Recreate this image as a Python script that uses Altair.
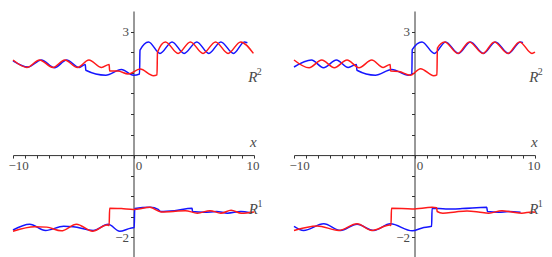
import altair as alt
import pandas as pd

# ---------------- data ----------------
# Left panel (A)
A_UP_RED_X = [-10.0, -8.85, -7.8, -6.7, -5.7, -4.65, -3.7, -2.65, -2.02, -1.98, -1.3, -0.45, 0.55, 1.65, 1.95, 1.99, 2.65, 3.7, 4.72, 5.77, 6.81, 7.85, 8.89, 9.95]
A_UP_RED_Y = [2.31, 2.13, 2.31, 2.13, 2.31, 2.13, 2.31, 2.13, 2.2, 2.04, 2.04, 1.97, 2.09, 1.93, 1.95, 2.5, 2.75, 2.47, 2.75, 2.47, 2.75, 2.47, 2.75, 2.47]
A_UP_BLUE_X = [-10.0, -8.75, -7.65, -6.55, -5.55, -4.5, -4.0, -3.96, -2.3, -1.0, 0.0, 0.5, 0.54, 1.25, 2.2, 3.2, 4.2, 5.25, 6.25, 7.25, 8.3, 9.2, 9.45]
A_UP_BLUE_Y = [2.29, 2.14, 2.31, 2.12, 2.31, 2.13, 2.2, 2.06, 1.94, 2.08, 1.94, 1.97, 2.55, 2.75, 2.47, 2.75, 2.47, 2.75, 2.47, 2.75, 2.47, 2.75, 2.73]
A_LO_RED_X = [-10.0, -8.2, -7.2, -6.0, -4.73, -3.4, -2.2, -2.02, -1.98, -1.0, 0.0, 1.35, 2.3, 3.3, 4.3, 5.3, 6.35, 7.25, 8.1, 8.95, 10.0]
A_LO_RED_Y = [-1.85, -1.74, -1.75, -1.84, -1.68, -1.85, -1.70, -1.71, -1.29, -1.30, -1.32, -1.27, -1.38, -1.37, -1.35, -1.41, -1.35, -1.41, -1.34, -1.41, -1.38]
A_LO_BLUE_X = [-10.0, -8.62, -7.3, -5.8, -5.0, -3.35, -2.1, -1.15, -0.3, 0.06, 0.1, 1.4, 2.05, 2.25, 3.4, 4.86, 4.9, 5.85, 6.9, 7.8, 8.9, 9.7]
A_LO_BLUE_Y = [-1.82, -1.68, -1.83, -1.73, -1.74, -1.83, -1.68, -1.85, -1.78, -1.76, -1.30, -1.27, -1.32, -1.37, -1.35, -1.29, -1.37, -1.39, -1.37, -1.41, -1.37, -1.40]

# Right panel (B)
B_UP_RED_X = [-10.0, -8.75, -7.7, -6.65, -5.6, -4.6, -3.55, -2.6, -2.02, -1.98, -1.3, -0.35, 0.5, 1.6, 1.86, 1.9, 2.5, 3.6, 4.55, 5.68, 6.62, 7.75, 8.72, 9.75, 10.0]
B_UP_RED_Y = [2.31, 2.12, 2.31, 2.12, 2.31, 2.12, 2.31, 2.13, 2.2, 2.04, 2.03, 1.94, 2.1, 1.93, 1.95, 2.6, 2.75, 2.47, 2.75, 2.47, 2.75, 2.47, 2.75, 2.47, 2.5]
B_UP_BLUE_X = [-10.0, -8.55, -7.55, -6.48, -5.5, -4.82, -4.78, -3.25, -1.88, -0.5, -0.22, -0.19, 0.62, 1.65, 2.58, 3.65, 4.65, 5.72, 6.72, 7.8, 8.8, 9.0]
B_UP_BLUE_Y = [2.14, 2.31, 2.12, 2.31, 2.13, 2.2, 2.06, 1.94, 2.08, 1.94, 1.97, 2.56, 2.75, 2.47, 2.75, 2.47, 2.75, 2.47, 2.75, 2.47, 2.75, 2.73]
B_LO_RED_X = [-10.0, -8.08, -6.29, -4.77, -3.53, -2.05, -1.95, -1.91, -0.2, 1.46, 1.84, 1.88, 2.35, 3.4, 4.36, 5.3, 6.16, 7.26, 8.08, 8.91, 9.74, 10.0]
B_LO_RED_Y = [-1.83, -1.72, -1.83, -1.67, -1.83, -1.70, -1.71, -1.29, -1.31, -1.27, -1.28, -1.37, -1.41, -1.38, -1.36, -1.38, -1.41, -1.35, -1.38, -1.41, -1.38, -1.39]
B_LO_BLUE_X = [-10.0, -9.2, -7.53, -6.15, -4.77, -3.39, -2.0, -0.19, 0.64, 1.42, 1.46, 2.6, 3.95, 6.0, 6.05, 6.98, 7.81, 8.8]
B_LO_BLUE_Y = [-1.73, -1.83, -1.67, -1.83, -1.68, -1.83, -1.67, -1.84, -1.77, -1.73, -1.29, -1.31, -1.30, -1.27, -1.37, -1.39, -1.37, -1.39]

# annotation labels: (panel, text, x, y)
ANN_PANEL = ["A", "A", "A", "B", "B", "B"]
ANN_MAIN = ["x", "R", "R", "x", "R", "R"]
ANN_SUP = ["", "2", "1", "", "2", "1"]
ANN_X = [9.95, 9.9, 9.95, 9.95, 9.9, 9.9]
ANN_Y = [0.32, 1.89, -1.31, 0.32, 1.89, -1.31]

X_TICKS = list(range(-10, 11))
Y_TICKS = [-2.0, -1.5, -1.0, -0.5, 0.0, 0.5, 1.0, 1.5, 2.0, 2.5, 3.0]

# ---------------- build tables ----------------
rows = []
def add(panel, band, color, xs, ys):
    for x, y in zip(xs, ys):
        rows.append({"panel": panel, "band": band, "color": color, "x": x, "y": y})

add("A", "up", "red", A_UP_RED_X, A_UP_RED_Y)
add("A", "up", "blue", A_UP_BLUE_X, A_UP_BLUE_Y)
add("A", "lo", "red", A_LO_RED_X, A_LO_RED_Y)
add("A", "lo", "blue", A_LO_BLUE_X, A_LO_BLUE_Y)
add("B", "up", "red", B_UP_RED_X, B_UP_RED_Y)
add("B", "up", "blue", B_UP_BLUE_X, B_UP_BLUE_Y)
add("B", "lo", "red", B_LO_RED_X, B_LO_RED_Y)
add("B", "lo", "blue", B_LO_BLUE_X, B_LO_BLUE_Y)
curves = pd.DataFrame(rows)

ann = pd.DataFrame({"panel": ANN_PANEL, "main": ANN_MAIN, "sup": ANN_SUP, "x": ANN_X, "y": ANN_Y})

W, H = 241, 247
XD = [-10, 10]
YD = [-2.5, 3.5]
AXIS_COLOR = "#333333"
TEXT_COLOR = "#4a4a4a"
SERIF = "Liberation Serif"

def panel(p):
    xscale = alt.Scale(domain=XD, nice=False, zero=False)
    yscale = alt.Scale(domain=YD, nice=False, zero=False)
    x_axis = alt.Axis(
        values=X_TICKS, format="d", labelExpr="datum.value % 10 === 0 ? datum.label : ''",
        offset=-H * (0 - YD[0]) / (YD[1] - YD[0]), tickSize=3, grid=False, title=None,
        domainColor=AXIS_COLOR, tickColor=AXIS_COLOR, labelColor=TEXT_COLOR,
        labelFont=SERIF, labelFontSize=13, labelPadding=1, labelOverlap=False,
        labelFlush=True, labelFlushOffset=5,
        labelOffset={"condition": {"test": "datum.value === 0", "value": 5}, "value": 0},
    )
    y_axis = alt.Axis(
        values=Y_TICKS, format="~g",
        labelExpr="datum.value === 3 || datum.value === -2 ? datum.label : ''",
        offset=-W * (0 - XD[0]) / (XD[1] - XD[0]), tickSize=3, grid=False, title=None,
        domainColor=AXIS_COLOR, tickColor=AXIS_COLOR, labelColor=TEXT_COLOR,
        labelFont=SERIF, labelFontSize=13, labelPadding=2, labelOverlap=False,
    )
    X = alt.X("x:Q", scale=xscale, axis=x_axis)
    Y = alt.Y("y:Q", scale=yscale, axis=y_axis)

    d = curves[curves.panel == p]
    blue = alt.Chart(d[d.color == "blue"]).mark_line(
        interpolate="monotone", color="#1515ff", strokeWidth=1.5
    ).encode(x=X, y=Y, detail="band:N")
    red = alt.Chart(d[d.color == "red"]).mark_line(
        interpolate="monotone", color="#ff1a1a", strokeWidth=1.5
    ).encode(x=X, y=Y, detail="band:N")

    a = ann[ann.panel == p]
    main = alt.Chart(a).mark_text(
        font=SERIF, fontSize=15, fontStyle="italic", color=TEXT_COLOR, align="center", baseline="middle"
    ).encode(x=X, y=Y, text="main:N")
    sup = alt.Chart(a).mark_text(
        font=SERIF, fontSize=10, color=TEXT_COLOR, align="left", baseline="middle", dx=4, dy=-5
    ).encode(x=X, y=Y, text="sup:N")

    return alt.layer(blue, red, main, sup).properties(width=W, height=H)

chart = alt.hconcat(panel("A"), panel("B"), spacing=40, bounds="flush").properties(
    padding={"left": 0, "top": 3, "right": 0, "bottom": 0}
).configure_view(stroke=None)

chart.save("out.html", embed_options={"renderer": "svg", "actions": False})
